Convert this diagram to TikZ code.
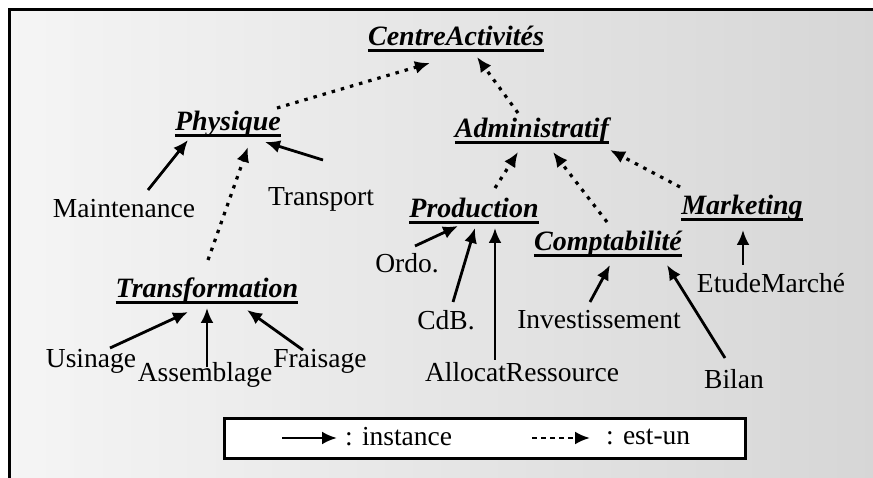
\documentclass[tikz,border=0pt]{standalone}
\usepackage{fontspec}
\setmainfont{Liberation Serif}
\usetikzlibrary{arrows.meta}
\begin{document}
\begin{tikzpicture}[x=1pt,y=-1pt,
  every node/.style={inner sep=0pt, font=\fontsize{27.5}{30}\selectfont},
  title/.style={font=\fontsize{28}{30}\selectfont\bfseries\itshape},
  ul/.style={line width=3.2pt, line cap=butt},
  inst/.style={line width=2.8pt, -{Latex[length=15pt,width=13pt]}},
  isa/.style={line width=3.2pt, dash pattern=on 3.5pt off 6pt, -{Latex[length=15pt,width=13pt]}},
  frame/.style={line width=3pt}]
\useasboundingbox (0,0) rectangle (873,478);
\fill[white] (0,0) rectangle (873,478);
\shade[left color=gray!8, right color=gray!32] (9,10) rectangle (873,478);
\draw[frame] (9,478) -- (9,10) -- (873,10);

% abstract classes
\node[title] (centre) at (456,36) {CentreActivités};
\node[title] (phys) at (228,124) {Physique};
\node[title] (admin) at (532,131) {Administratif};
\node[title] (prod) at (474,208) {Production};
\node[title] (mark) at (742,208) {Marketing};
\node[title] (comp) at (608,244) {Comptabilité};
\node[title] (transf) at (207,291) {Transformation};
\foreach \n in {centre,phys,admin,prod,mark,comp,transf}
  \draw[ul] ([yshift=-5pt]\n.base west) -- ([yshift=-5pt]\n.base east);

% instances
\node (maint) at (124,209) {Maintenance};
\node (transp) at (321,199) {Transport};
\node (ordo) at (407,263) {Ordo.};
\node (cdb) at (446,320) {CdB.};
\node (alloc) at (522,372) {AllocatRessource};
\node (invest) at (599,320) {Investissement};
\node (bilan) at (734,379) {Bilan};
\node (etude) at (771,283) {EtudeMarché};
\node (usin) at (91,361) {Usinage};
\node (assem) at (205,375) {Assemblage};
\node (frais) at (320,361) {Fraisage};

% est-un
\draw[isa] ([shift={(49,-16)}]phys.center) -- ([shift={(-26,27)}]centre.center);
\draw[isa] ([shift={(-14,-18)}]admin.center) -- ([shift={(21,21)}]centre.center);
\draw[isa] ([shift={(1,-31)}]transf.center) -- ([shift={(20,23)}]phys.center);
\draw[isa] ([shift={(21,-20)}]prod.center) -- ([shift={(-14,21)}]admin.center);
\draw[isa] ([shift={(-1,-22)}]comp.center) -- ([shift={(21,21)}]admin.center);
\draw[isa] ([shift={(-62,-21)}]mark.center) -- ([shift={(78,19)}]admin.center);

% instances
\draw[inst] ([shift={(24,-19)}]maint.center) -- ([shift={(-40,16)}]phys.center);
\draw[inst] ([shift={(2,-39)}]transp.center) -- ([shift={(37,18)}]phys.center);
\draw[inst] ([shift={(8,-17)}]ordo.center) -- ([shift={(-16,18)}]prod.center);
\draw[inst] ([shift={(7,-18)}]cdb.center) -- ([shift={(1,20)}]prod.center);
\draw[inst] ([shift={(-27,-12)}]alloc.center) -- ([shift={(21,20)}]prod.center);
\draw[inst] ([shift={(-9,-18)}]invest.center) -- ([shift={(2,21)}]comp.center);
\draw[inst] ([shift={(-9,-21)}]bilan.center) -- ([shift={(59,21)}]comp.center);
\draw[inst] ([shift={(-28,-18)}]etude.center) -- ([shift={(1,22)}]mark.center);
\draw[inst] ([shift={(19,-13)}]usin.center) -- ([shift={(-19,21)}]transf.center);
\draw[inst] ([shift={(2,-8)}]assem.center) -- ([shift={(0,17)}]transf.center);
\draw[inst] ([shift={(-17,-11)}]frais.center) -- ([shift={(40,19)}]transf.center);

% legend
\node[draw, fill=white, line width=3pt, minimum width=521pt, minimum height=40pt] (legend) at (484.5,438) {};
\coordinate (la1) at (282,438);
\coordinate (la2) at (337,438);
\coordinate (lb1) at (532,438);
\coordinate (lb2) at (590,438);
\draw[inst] (la1) -- (la2);
\draw[line width=2.6pt, dash pattern=on 5pt off 4pt, -{Latex[length=15pt,width=13pt]}] (lb1) -- (lb2);
\node[anchor=west] (linst) at (345,437) {: instance};
\node[anchor=west] (lisa) at (606,437) {: est-un};
\end{tikzpicture}
\end{document}
